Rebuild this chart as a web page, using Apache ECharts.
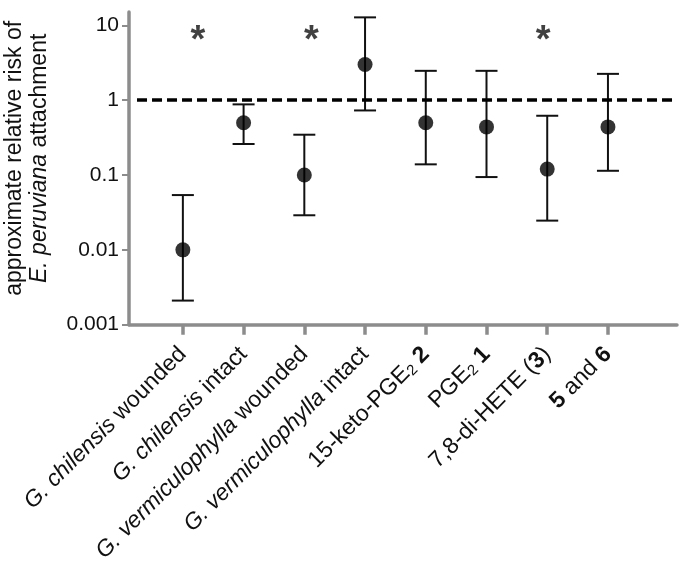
<!DOCTYPE html>
<html><head><meta charset="utf-8">
<script src="https://cdn.jsdelivr.net/npm/echarts@6/dist/echarts.min.js"></script>
<style>html,body{margin:0;padding:0;background:#fff}#c{width:682px;height:568px}</style>
</head><body><div id="c"></div>
<script>
// ---- data ----
const categories = [
  '{i|G. chilensis} wounded',
  '{i|G. chilensis} intact',
  '{i|G. vermiculophylla} wounded',
  '{i|G. vermiculophylla} intact',
  '15-keto-PGE{sub|2} {b|2}',
  'PGE{sub|2} {b|1}',
  '7,8-di-HETE ({b|3})',
  '{b|5} and {b|6}'
];
const riskValues = [0.01, 0.5, 0.1, 3.0, 0.5, 0.44, 0.12, 0.44];
const lowerCI    = [0.0021, 0.26, 0.029, 0.73, 0.139, 0.094, 0.0246, 0.114];
const upperCI    = [0.054, 0.88, 0.346, 12.8, 2.47, 2.47, 0.62, 2.25];
const significantIdx = [0, 2, 6];
const asteriskLevel = 8.2;
const referenceLevel = 1;
const yTicks = [0.001, 0.01, 0.1, 1, 10];
const yMin = 0.001, yMax = 15.1;

// ---- chart ----
const FONT = 'Liberation Sans';
const AXIS_GREY = '#8c8c8c';
const XFS = 23;
const idx = categories.map((_, i) => i);
const asteriskOffsets = [[15, 10], [7, 10], [-4, 10]];

const chart = echarts.init(document.getElementById('c'), null, {renderer: 'canvas'});
chart.setOption({
  animation: false,
  backgroundColor: '#fff',
  grid: {left: 129, right: 5, top: 12, bottom: 243.3, containLabel: false, outerBoundsMode: 'none'},
  xAxis: {
    type: 'value', min: -0.887, max: 8.137,
    splitLine: {show: false},
    axisLine: {show: true, onZero: false, lineStyle: {color: AXIS_GREY, width: 3.5}},
    axisTick: {show: true, customValues: idx, length: 10, lineStyle: {color: AXIS_GREY, width: 3.5}},
    axisLabel: {
      show: true, customValues: idx, rotate: 45, margin: 26,
      fontFamily: FONT, fontSize: XFS, color: '#111',
      formatter: v => categories[Math.round(v)] || '',
      rich: {
        i: {fontFamily: FONT, fontSize: XFS, fontStyle: 'italic', color: '#111'},
        b: {fontFamily: FONT, fontSize: XFS, fontWeight: 'bold', color: '#111'},
        sub: {fontFamily: FONT, fontSize: 15, color: '#111', verticalAlign: 'bottom', padding: [9, 0, 0, 0]}
      }
    }
  },
  yAxis: {
    type: 'log', logBase: 10, min: yMin, max: yMax,
    splitLine: {show: false},
    axisLine: {show: true, onZero: false, lineStyle: {color: AXIS_GREY, width: 3.5}},
    axisTick: {show: true, customValues: yTicks, length: 7, lineStyle: {color: AXIS_GREY, width: 2}},
    axisLabel: {
      show: true, customValues: yTicks, margin: 10,
      fontFamily: FONT, fontSize: 21, color: '#111',
      formatter: v => String(+v.toPrecision(3))
    },
    name: '{a|approximate relative risk of}\n{i|E. peruviana}{a| attachment}',
    nameLocation: 'middle', nameRotate: 90, nameGap: 77,
    nameTextStyle: {
      fontFamily: FONT, fontSize: 23, lineHeight: 25, color: '#111', padding: [0, 0, 0, 20],
      rich: {
        a: {fontFamily: FONT, fontSize: 23, lineHeight: 25, color: '#111'},
        i: {fontFamily: FONT, fontSize: 23, lineHeight: 25, fontStyle: 'italic', color: '#111'}
      }
    }
  },
  series: [
    {
      type: 'custom',
      data: idx.map(i => [i, lowerCI[i], upperCI[i]]),
      encode: {x: 0, y: [1, 2]},
      renderItem: (params, api) => {
        const i = api.value(0);
        const lo = api.coord([i, api.value(1)]);
        const hi = api.coord([i, api.value(2)]);
        const hw = 11;
        const st = {stroke: '#111', lineWidth: 2};
        return {type: 'group', children: [
          {type: 'line', shape: {x1: lo[0], y1: lo[1], x2: hi[0], y2: hi[1]}, style: st},
          {type: 'line', shape: {x1: lo[0] - hw, y1: lo[1], x2: lo[0] + hw, y2: lo[1]}, style: st},
          {type: 'line', shape: {x1: hi[0] - hw, y1: hi[1], x2: hi[0] + hw, y2: hi[1]}, style: st}
        ]};
      },
      z: 2
    },
    {
      type: 'scatter',
      data: idx.map(i => [i, riskValues[i]]),
      symbol: 'circle', symbolSize: 15,
      itemStyle: {color: '#000'},
      z: 3,
      markLine: {
        silent: true, symbol: 'none', label: {show: false},
        lineStyle: {color: '#000', width: 3.6, type: [10, 5]},
        data: [[{coord: [-0.755, referenceLevel]}, {coord: [8.137, referenceLevel]}]]
      }
    },
    {
      type: 'scatter',
      data: significantIdx.map((i, k) => ({value: [i, asteriskLevel], label: {offset: asteriskOffsets[k]}})),
      symbol: 'circle', symbolSize: 1,
      itemStyle: {color: 'rgba(0,0,0,0)'},
      label: {show: true, position: 'inside', formatter: '*', fontFamily: FONT, fontSize: 38, fontWeight: 'bold', color: '#111'},
      z: 4
    }
  ]
});
</script></body></html>
